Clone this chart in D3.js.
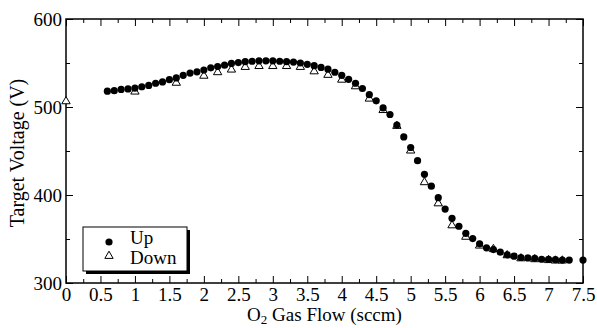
<!DOCTYPE html>
<html><head><meta charset="utf-8">
<script src="https://cdn.jsdelivr.net/npm/d3@7"></script>
<style>body{margin:0;background:#fff}svg{display:block}text{font-family:"Liberation Serif","Times New Roman",serif;fill:#000}</style>
</head><body><svg id="c" width="597" height="328"></svg>
<script>
const upFlow = [0.6,0.7,0.8,0.9,1.0,1.1,1.2,1.3,1.4,1.5,1.6,1.7,1.8,1.9,2.0,2.1,2.2,2.3,2.4,2.5,2.6,2.7,2.8,2.9,3.0,3.1,3.2,3.3,3.4,3.5,3.6,3.7,3.8,3.9,4.0,4.1,4.2,4.3,4.4,4.5,4.6,4.7,4.8,4.9,5.0,5.1,5.2,5.3,5.4,5.5,5.6,5.7,5.8,5.9,6.0,6.1,6.2,6.3,6.4,6.5,6.6,6.7,6.8,6.9,7.0,7.1,7.2,7.3,7.5];
const upVolt = [518,518.5,520,520.5,521.5,523,524.5,527,528.5,531,533,536,538.5,540,542,544.5,546,547.5,549.5,550.5,551.5,552,552.5,552.5,552.5,552,551.5,551,550,548.5,547,545,543,539.5,536,531.5,527,521,514,507,499,491.5,479.5,466,454,439,423.5,410,397,384,373.5,364.5,356.5,350.5,344.5,340,338,335,332,330.5,329,328.5,328,327,327,326.5,326,326,326];
const downFlow = [0,1.0,1.6,2.0,2.2,2.4,2.6,2.8,3.0,3.2,3.4,3.6,3.8,4.0,4.2,4.4,4.6,4.8,5.0,5.2,5.4,5.6,5.8,6.0,6.2,6.4,6.6,6.8,7.0,7.1,7.2];
const downVolt = [507,518,528,536,540,543,546,547,547,547,546,541,537,531.5,524,510,497,479,451,415,391,366,353,343,339,332,328.5,327.5,326.5,326,326];
const xTicks = [0,0.5,1,1.5,2,2.5,3,3.5,4,4.5,5,5.5,6,6.5,7,7.5];
const yTicks = [300,400,500,600];
const seriesNames = ["Up","Down"];

const svg = d3.select("#c");
const L=66,R=583,T=19,B=283;
const x = d3.scaleLinear().domain([0,7.5]).range([L,R]);
const y = d3.scaleLinear().domain([300,600]).range([B,T]);
const xMinor = d3.range(0.25,7.5,0.5);
const yMinor = [350,450,550];

function tickAxis(axisFn, scale, vals, size, tr){
  const g = svg.append("g").attr("transform",tr)
    .call(axisFn(scale).tickValues(vals).tickSize(size).tickFormat(""));
  g.select(".domain").remove();
  g.selectAll("line").attr("stroke","#000").attr("stroke-width",1);
  return g;
}
tickAxis(d3.axisTop, x, xTicks, 7, `translate(0,${B})`);
tickAxis(d3.axisTop, x, xMinor, 4, `translate(0,${B})`);
tickAxis(d3.axisBottom, x, xTicks, 7, `translate(0,${T})`);
tickAxis(d3.axisBottom, x, xMinor, 4, `translate(0,${T})`);
tickAxis(d3.axisRight, y, yTicks, 7, `translate(${L},0)`);
tickAxis(d3.axisRight, y, yMinor, 4, `translate(${L},0)`);
tickAxis(d3.axisLeft, y, yTicks, 7, `translate(${R},0)`);
tickAxis(d3.axisLeft, y, yMinor, 4, `translate(${R},0)`);

const fmt = d => String(d);
const xl = svg.append("g").attr("transform",`translate(0,${B})`)
  .call(d3.axisBottom(x).tickValues(xTicks).tickSize(0).tickPadding(0).tickFormat(fmt));
xl.select(".domain").remove();
xl.selectAll("text").attr("font-size",19).attr("font-family","Liberation Serif").attr("y",18).attr("dy",0);
const yl = svg.append("g").attr("transform",`translate(${L},0)`)
  .call(d3.axisLeft(y).tickValues(yTicks).tickSize(0).tickPadding(4).tickFormat(fmt));
yl.select(".domain").remove();
yl.selectAll("text").attr("font-size",19).attr("font-family","Liberation Serif").attr("dy","0.32em");

svg.append("rect").attr("x",L).attr("y",T).attr("width",R-L).attr("height",B-T)
  .attr("fill","none").attr("stroke","#000").attr("stroke-width",1.5);

const tri = d3.symbol().type(d3.symbolTriangle).size(30);
svg.append("g").selectAll("path").data(downFlow.map((f,i)=>[f,downVolt[i]])).join("path")
  .attr("d",tri).attr("transform",d=>`translate(${x(d[0])},${y(d[1])+0.5})`)
  .attr("fill","#fff").attr("stroke","#000").attr("stroke-width",1);
svg.append("g").selectAll("circle").data(upFlow.map((f,i)=>[f,upVolt[i]])).join("circle")
  .attr("cx",d=>x(d[0])).attr("cy",d=>y(d[1])).attr("r",3.6).attr("fill","#000");

svg.append("text").attr("x",(L+R)/2).attr("y",321).attr("text-anchor","middle").attr("font-size",19)
  .html('O<tspan font-size="13" dy="3">2</tspan><tspan dy="-3"> Gas Flow (sccm)</tspan>');
svg.append("text").attr("transform",`translate(24,${(T+B)/2+2}) rotate(-90)`).attr("text-anchor","middle")
  .attr("font-size",20).text("Target Voltage (V)");

const lg = svg.append("g");
lg.append("rect").attr("x",86).attr("y",230).attr("width",104).attr("height",44).attr("fill","#000");
lg.append("rect").attr("x",83).attr("y",227).attr("width",104).attr("height",44).attr("fill","#fff").attr("stroke","#000").attr("stroke-width",1);
lg.append("circle").attr("cx",109).attr("cy",242).attr("r",3.6).attr("fill","#000");
lg.append("path").attr("d",tri).attr("transform","translate(109,256)").attr("fill","#fff").attr("stroke","#000");
lg.selectAll("text.lt").data(seriesNames).join("text").attr("class","lt")
  .attr("x",130).attr("y",(d,i)=>244+i*20).attr("font-size",19).text(d=>d);
</script></body></html>
